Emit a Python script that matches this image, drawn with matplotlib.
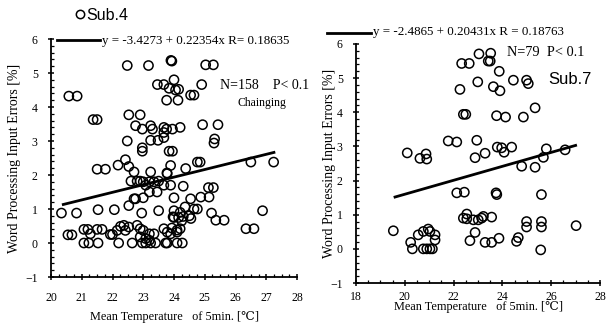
import matplotlib
matplotlib.use("Agg")
import matplotlib.pyplot as plt
from matplotlib.lines import Line2D
from matplotlib.ticker import MultipleLocator

plt.rcParams['font.family'] = ['Liberation Serif', 'DejaVu Serif']

# ---------------- data: Sub.4 (left) ----------------
sub4_x = [22.48, 23.17, 23.90, 23.93, 25.03, 25.28, 24.00, 23.46, 23.67, 23.84, 24.05, 24.15,
          23.76, 24.13, 24.54, 24.65, 24.90, 20.58, 20.85, 21.37, 21.50, 22.53, 22.90,
          22.75, 22.97, 23.24, 23.30, 23.67, 23.76, 23.95, 24.20, 23.67, 24.93, 25.43,
          22.48, 22.97, 22.97, 23.24, 23.48, 23.67, 23.84, 23.95, 25.30, 25.32,
          22.42, 24.76, 24.85, 21.50, 21.77, 22.53, 22.70, 22.18, 23.78, 23.89, 24.38,
          26.50, 27.24, 23.24, 22.60, 22.80, 22.90, 23.00, 23.20, 23.35, 23.50, 23.08,
          23.67, 23.89, 24.30, 23.20, 23.45, 25.12, 25.28, 22.70, 22.75, 22.53, 23.00,
          24.00, 24.54, 24.87, 25.14, 24.36, 24.65, 24.76, 24.00, 24.20, 23.50,
          20.34, 20.83, 21.53, 22.06, 22.95, 25.22, 25.36, 25.63, 26.88,
          24.00, 24.15, 24.30, 24.50, 24.25, 24.55, 26.34, 26.60, 20.55, 20.68,
          21.07, 21.20, 21.28, 21.50, 21.66, 21.93, 22.00, 22.15, 22.26, 22.37, 22.53, 22.42,
          22.80, 22.90, 23.00, 23.20, 23.35, 23.67, 23.78, 23.89, 24.10, 24.20,
          21.07, 21.23, 21.53, 22.20, 22.64, 22.97, 23.08, 23.24, 23.40,
          23.73, 23.78, 24.10, 24.27, 22.90, 23.08, 23.20, 23.93, 24.10, 23.97, 23.77]
sub4_y = [5.22, 5.22, 5.37, 5.35, 5.24, 5.24, 4.80, 4.66, 4.66, 4.55, 4.50, 4.52,
          4.20, 4.20, 4.35, 4.35, 4.66, 4.32, 4.32, 3.63, 3.63, 3.77, 3.77,
          3.45, 3.35, 3.45, 3.35, 3.40, 3.35, 3.35, 3.40, 3.25, 3.48, 3.48,
          3.00, 2.80, 2.70, 3.02, 3.02, 3.10, 2.70, 2.70, 2.94, 3.06,
          2.45, 2.38, 2.38, 2.17, 2.17, 2.25, 2.09, 2.29, 2.04, 2.28, 2.19,
          2.38, 2.38, 2.09, 1.82, 1.82, 1.82, 1.80, 1.80, 1.80, 1.82, 1.70,
          1.70, 1.70, 1.67, 1.50, 1.50, 1.63, 1.63, 1.30, 1.30, 1.10, 1.33,
          1.33, 1.30, 1.35, 1.35, 1.06, 1.00, 1.00, 0.95, 0.90, 0.95,
          0.88, 0.88, 0.98, 0.98, 0.88, 0.88, 0.67, 0.67, 0.95,
          0.75, 0.75, 0.78, 0.80, 0.65, 0.72, 0.42, 0.42, 0.24, 0.24,
          0.40, 0.40, 0.27, 0.40, 0.40, 0.25, 0.25, 0.37, 0.49, 0.52, 0.47, 0.37,
          0.52, 0.42, 0.37, 0.27, 0.27, 0.42, 0.32, 0.27, 0.32, 0.42,
          0.00, 0.00, 0.00, 0.00, 0.00, 0.00, 0.00, 0.00, 0.00,
          0.00, 0.00, 0.00, 0.00, 0.18, 0.13, 0.08, 0.44, 0.38, 0.77, 2.06]

# ---------------- data: Sub.7 (right) ----------------
sub7_x = [23.04, 23.52, 23.42, 23.50, 22.33, 22.64, 23.87, 22.26, 22.99, 23.63, 23.90,
          24.45, 24.99, 25.06, 22.40, 22.50, 23.76, 24.13, 24.86, 25.34,
          21.78, 22.13, 22.95, 20.10, 20.62, 20.87, 20.90, 22.88, 23.29,
          23.79, 23.97, 24.07, 24.38, 25.80, 26.57, 25.68, 24.79, 25.34,
          22.13, 22.44, 23.74, 23.77, 25.60, 22.54,
          22.40, 22.54, 22.81, 23.01, 23.15, 23.22, 23.56,
          24.99, 24.99, 25.60, 25.60, 27.02, 19.53, 20.24, 20.31,
          20.55, 20.76, 20.96, 21.03, 21.24, 21.24, 20.76, 20.90, 21.03, 21.13,
          22.88, 22.67, 23.29, 23.56, 23.86, 24.58, 24.65, 25.57]
sub7_y = [5.71, 5.73, 5.50, 5.50, 5.43, 5.43, 5.20, 4.67, 4.89, 4.75, 4.63,
          4.94, 4.94, 4.84, 3.94, 3.94, 3.90, 3.86, 3.86, 4.13,
          3.16, 3.13, 3.18, 2.81, 2.65, 2.78, 2.63, 2.67, 2.80,
          2.98, 2.96, 2.83, 2.98, 2.93, 2.90, 2.68, 2.42, 2.39,
          1.64, 1.66, 1.64, 1.59, 1.59, 1.02,
          0.90, 0.88, 0.85, 0.85, 0.90, 0.95, 0.93,
          0.80, 0.64, 0.80, 0.64, 0.68, 0.53, 0.19, 0.00,
          0.41, 0.51, 0.58, 0.51, 0.41, 0.26, 0.00, 0.00, 0.00, 0.00,
          0.48, 0.24, 0.19, 0.19, 0.31, 0.22, 0.33, -0.03]

# regression parameters (from the figure's equations)
fit4 = (-3.4273, 0.22354)
fit7 = (-2.4865, 0.20431)
fit4_range = [20.4, 27.25]
fit7_range = [19.6, 27.0]

W, H = 611, 324
fig = plt.figure(figsize=(W / 100, H / 100), dpi=100)

def px(x0, y0, x1, y1):
    return [x0 / W, 1 - y1 / H, (x1 - x0) / W, (y1 - y0) / H]

axL = fig.add_axes(px(51, 39, 297, 277))
axR = fig.add_axes(px(356, 44, 600, 283))

def style(ax, xlim, xmaj, xmin, xpad, xlpad, ylpad):
    ax.set_xlim(*xlim)
    ax.set_ylim(-1, 6)
    ax.spines['top'].set_visible(False)
    ax.spines['right'].set_visible(False)
    for s in ('left', 'bottom'):
        ax.spines[s].set_linewidth(1.3)
    ax.xaxis.set_major_locator(MultipleLocator(xmaj))
    ax.xaxis.set_minor_locator(MultipleLocator(xmin))
    ax.yaxis.set_major_locator(MultipleLocator(1))
    ax.yaxis.set_minor_locator(MultipleLocator(0.2))
    ax.tick_params(which='major', direction='inout', length=5, width=1.1, labelsize=8.5)
    ax.tick_params(axis='x', which='major', pad=xpad)
    ax.tick_params(axis='y', which='major', pad=7)
    ax.tick_params(which='minor', direction='in', length=2.5, width=0.9)
    ax.set_ylabel('Word Processing Input Errors [%]', fontsize=10, labelpad=ylpad)
    ax.set_xlabel('Mean Temperature   of 5min. [℃]', fontsize=8.8, labelpad=xlpad)

style(axL, (20, 28), 1, 0.25, xpad=8, xlpad=5, ylpad=3)
style(axR, (18, 28), 2, 0.5, xpad=3, xlpad=-1, ylpad=-4)

mk = dict(marker='o', s=44, facecolors='none', edgecolors='black', linewidths=1.1, zorder=3)
axL.scatter(sub4_x, sub4_y, **mk)
axR.scatter(sub7_x, sub7_y, **mk)

axL.plot(fit4_range, [fit4[0] + fit4[1] * v for v in fit4_range], color='black', lw=2)
axR.plot(fit7_range, [fit7[0] + fit7[1] * v for v in fit7_range], color='black', lw=2)

# legend-like line samples and equations
fig.add_artist(Line2D([57 / W, 100 / W], [1 - 40 / H, 1 - 40 / H], color='black', lw=2))
fig.text(102 / W, 1 - 41 / H, 'y = -3.4273 + 0.22354x R= 0.18635', fontsize=9.4, va='center')
fig.add_artist(Line2D([327 / W, 371 / W], [1 - 33 / H, 1 - 33 / H], color='black', lw=2))
fig.text(373 / W, 1 - 32 / H, 'y = -2.4865 + 0.20431x R = 0.18763', fontsize=9.4, va='center')

# left annotations
fig.add_artist(Line2D([80 / W], [1 - 14 / H], marker='o', markersize=6, markerfacecolor='none',
                      markeredgecolor='black', markeredgewidth=1.1, linestyle='none'))
fig.text(86 / W, 1 - 16 / H, 'Sub.4', fontsize=11.5, family='Liberation Sans', va='center')
fig.text(220 / W, 1 - 85 / H, 'N=158    P< 0.1', fontsize=10, va='center')
fig.text(237 / W, 1 - 103 / H, 'Chainging', fontsize=8.5, va='center')

# right annotations
fig.text(507 / W, 1 - 53 / H, 'N=79  P< 0.1', fontsize=10.3, va='center')
fig.text(548 / W, 1 - 80 / H, 'Sub.7', fontsize=12, family='Liberation Sans', va='center')

fig.savefig('out.png', dpi=100)
